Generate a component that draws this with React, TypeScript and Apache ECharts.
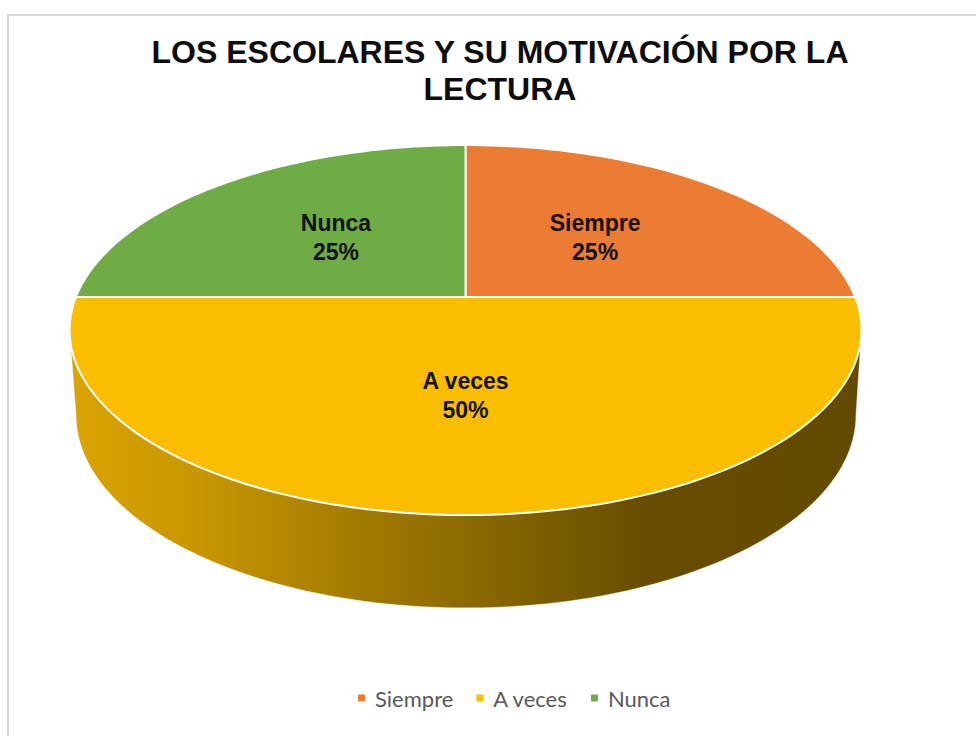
import React, { useEffect, useRef } from 'react';
import * as echarts from 'echarts';

const categories = ['Siempre', 'A veces', 'Nunca'];
const values = [25, 50, 25];
const colors = ['#EC7C31', '#FABD00', '#6FAC46'];
const titleText = 'LOS ESCOLARES Y SU MOTIVACIÓN POR LA\nLECTURA';

// projection of the pie's top and bottom discs (perspective)
const TOP = { cx: 465.5, cy: 297, a: 389.6, b: 179.1, k: 0.1785 };
const BOTTOM = { cx: 466, cy: 380.5, a: 383.7, b: 186.8, k: 0.1785 };
const START_ANGLE = 90;
const ALPHA = (Math.asin(TOP.k) * 180) / Math.PI;

function project(p: any, deg: number, r = 1): number[] {
  const t = (deg * Math.PI) / 180;
  const u = r * Math.cos(t);
  const v = r * Math.sin(t);
  const w = 1 + p.k * v;
  return [p.cx + (p.a * u) / w, p.cy - (p.b * v) / w];
}

function arc(p: any, from: number, to: number): number[][] {
  const n = Math.max(2, Math.ceil(Math.abs(to - from) / 1.5));
  const pts: number[][] = [];
  for (let i = 0; i <= n; i++) pts.push(project(p, from + ((to - from) * i) / n));
  return pts;
}

function sliceAngles(i: number): number[] {
  const total = values.reduce((s, v) => s + v, 0);
  let cum = 0;
  for (let j = 0; j < i; j++) cum += values[j];
  const start = START_ANGLE - (360 * cum) / total;
  const end = start - (360 * values[i]) / total;
  return [start, end];
}

function shade(hex: string, f: number): string {
  const n = parseInt(hex.slice(1), 16);
  const r = Math.round(((n >> 16) & 255) * f);
  const g = Math.round(((n >> 8) & 255) * f);
  const b = Math.round((n & 255) * f);
  return `rgb(${r},${g},${b})`;
}

function renderSide(params: any) {
  const i = params.dataIndex;
  const [start, end] = sliceAngles(i);
  const children: any[] = [];
  for (const s of [-360, 0, 360]) {
    const lo = Math.max(end + s, -180 + ALPHA);
    const hi = Math.min(start + s, -ALPHA);
    if (lo < hi) {
      const pts = arc(TOP, lo, hi).concat(arc(BOTTOM, hi, lo));
      const c = colors[i];
      children.push({
        type: 'polygon',
        shape: { points: pts },
        style: {
          fill: new echarts.graphic.LinearGradient(0, 0, 1, 0, [
            { offset: 0, color: shade(c, 0.87) },
            { offset: 0.16, color: shade(c, 0.8) },
            { offset: 0.39, color: shade(c, 0.63) },
            { offset: 0.5, color: shade(c, 0.56) },
            { offset: 0.62, color: shade(c, 0.48) },
            { offset: 0.73, color: shade(c, 0.41) },
            { offset: 1, color: shade(c, 0.39) },
          ]),
          stroke: 'rgba(255,255,255,0.5)',
          lineWidth: 0.8,
        },
      });
    }
  }
  return { type: 'group', children };
}

function renderTop(i: number) {
  return () => {
    const [start, end] = sliceAngles(i);
    const total = values.reduce((s, v) => s + v, 0);
    const pts = [project(TOP, 0, 0)].concat(arc(TOP, start, end));
    const mid = (start + end) / 2;
    const lp = project(TOP, mid, 0.5);
    return {
      type: 'group',
      children: [
        {
          type: 'polygon',
          shape: { points: pts },
          style: { fill: colors[i], stroke: '#FFFFFF', lineWidth: 2, lineJoin: 'round' },
        },
        {
          type: 'text',
          x: lp[0],
          y: lp[1],
          style: {
            text: `${categories[i]}\n${Math.round((values[i] / total) * 100)}%`,
            fill: '#111111',
            fontSize: 23,
            fontWeight: 'bold',
            fontFamily: '"Liberation Sans", Arial, sans-serif',
            align: 'center',
            verticalAlign: 'middle',
            lineHeight: 29,
          },
        },
      ],
    };
  };
}

export default function App() {
  const ref = useRef<HTMLDivElement>(null);
  useEffect(() => {
    if (!ref.current) return;
    const chart = echarts.init(ref.current, null, { renderer: 'svg' });
    const series: any[] = [
      {
        type: 'custom',
        name: '__side',
        coordinateSystem: 'none',
        silent: true,
        z: 1,
        data: values.map((v, i) => [i, v]),
        renderItem: renderSide,
      },
    ];
    categories.forEach((c, i) => {
      series.push({
        type: 'custom',
        name: c,
        coordinateSystem: 'none',
        silent: true,
        z: 2,
        itemStyle: { color: colors[i] },
        data: [[i, values[i]]],
        renderItem: renderTop(i),
      });
    });
    chart.setOption({
      animation: false,
      backgroundColor: '#FFFFFF',
      title: {
        text: titleText,
        left: 500,
        top: 33,
        textAlign: 'center',
        padding: 0,
        textStyle: {
          fontFamily: '"Liberation Sans", Arial, sans-serif',
          fontSize: 32,
          fontWeight: 'bold',
          color: '#0D0D0D',
          lineHeight: 37,
        },
      },
      legend: {
        data: categories.map((c, i) => ({ name: c, itemStyle: { color: colors[i] } })),
        icon: 'rect',
        itemWidth: 7,
        itemHeight: 7,
        left: 358,
        top: 687,
        padding: 0,
        itemGap: 23,
        selectedMode: false,
        textStyle: {
          fontFamily: 'Lato, "Open Sans", sans-serif',
          fontSize: 22,
          color: '#595959',
          padding: [0, 0, 0, 5],
        },
      },
      graphic: [
        {
          type: 'rect',
          silent: true,
          z: -1,
          shape: { x: 8, y: 15, width: 1000, height: 800 },
          style: { fill: 'none', stroke: '#D9D9D9', lineWidth: 2 },
        },
      ],
      series,
    });
    return () => chart.dispose();
  }, []);
  return (
    <div
      ref={ref}
      style={{ position: 'fixed', left: 0, top: 0, width: 976, height: 736 }}
    />
  );
}
